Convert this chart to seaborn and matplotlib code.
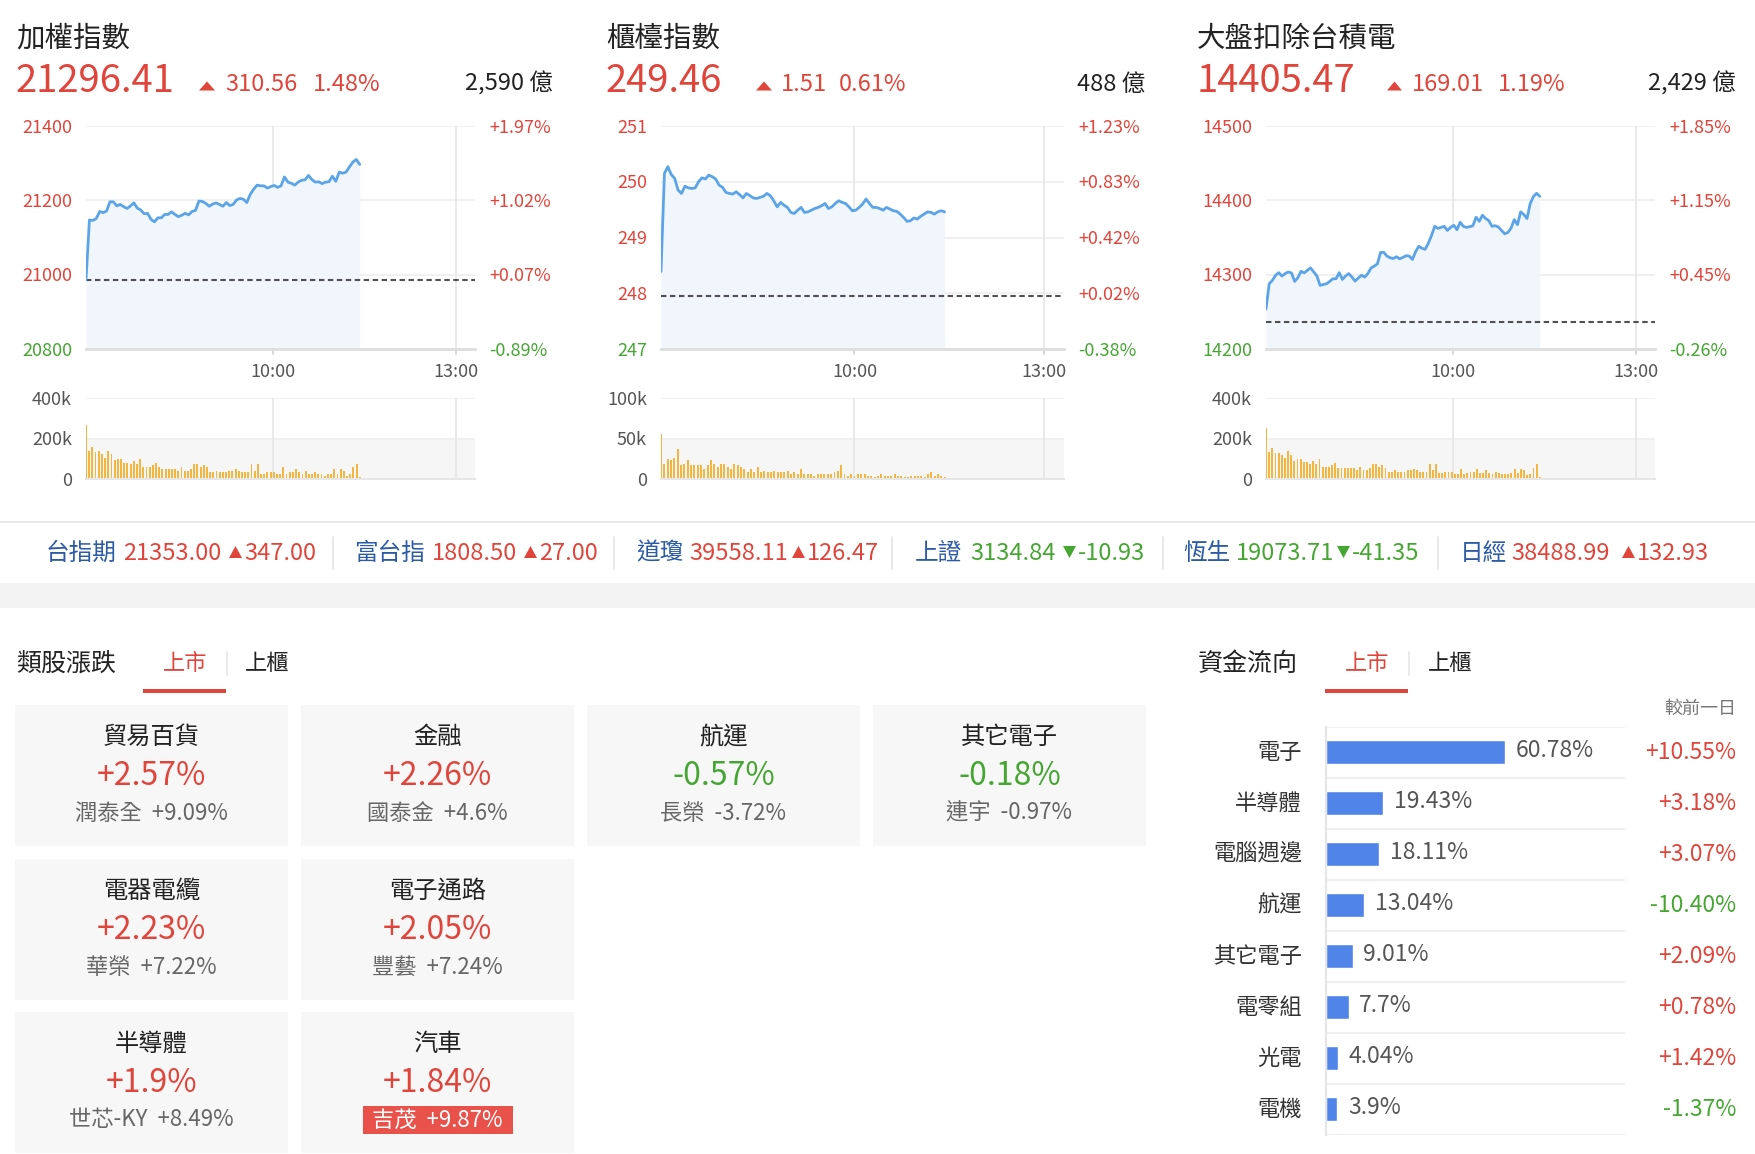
import numpy as np
import pandas as pd
import matplotlib
matplotlib.use("Agg")
import matplotlib.pyplot as plt
import matplotlib.transforms as mtransforms
from matplotlib.patches import Rectangle, Polygon
import seaborn as sns

# ---------------- data ----------------
index_names = ["加權指數", "櫃檯指數", "大盤扣除台積電"]
index_last = [21296.41, 249.46, 14405.47]
index_change = [310.56, 1.51, 169.01]
index_pct = [1.48, 0.61, 1.19]
index_turnover = ["2,590", "488", "2,429"]

taiex_yticks = [20800, 21000, 21200, 21400]
otc_yticks = [247, 248, 249, 250, 251]
extsmc_yticks = [14200, 14300, 14400, 14500]
taiex_volticks = [0, 200000, 400000]
otc_volticks = [0, 50000, 100000]
extsmc_volticks = [0, 200000, 400000]
time_labels = ["10:00", "13:00"]

taiex_line = [20986, 21147, 21146, 21151, 21170, 21167, 21171, 21196, 21196, 21185,
              21189, 21183, 21178, 21185, 21193, 21179, 21174, 21164, 21165, 21149,
              21142, 21153, 21153, 21162, 21162, 21169, 21162, 21156, 21160, 21165,
              21161, 21170, 21173, 21198, 21197, 21192, 21184, 21190, 21193, 21189,
              21184, 21194, 21186, 21189, 21201, 21205, 21203, 21194, 21216, 21230,
              21241, 21239, 21239, 21233, 21237, 21240, 21235, 21239, 21263, 21249,
              21246, 21241, 21249, 21254, 21255, 21267, 21256, 21249, 21250, 21245,
              21249, 21250, 21265, 21251, 21276, 21273, 21276, 21290, 21303, 21310,
              21296.41]
otc_line = [248.39, 250.15, 250.27, 250.13, 250.06, 249.85, 249.79, 249.92, 249.89, 249.88,
            249.89, 250.00, 250.07, 250.05, 250.12, 250.09, 250.05, 249.94, 249.90, 249.81,
            249.79, 249.78, 249.82, 249.77, 249.71, 249.79, 249.75, 249.71, 249.70, 249.72,
            249.74, 249.79, 249.75, 249.66, 249.55, 249.63, 249.58, 249.54, 249.45, 249.43,
            249.49, 249.54, 249.45, 249.46, 249.49, 249.52, 249.54, 249.57, 249.61, 249.52,
            249.55, 249.61, 249.66, 249.63, 249.61, 249.55, 249.48, 249.49, 249.54, 249.60,
            249.69, 249.61, 249.54, 249.54, 249.52, 249.49, 249.54, 249.51, 249.48, 249.47,
            249.42, 249.36, 249.29, 249.30, 249.35, 249.33, 249.38, 249.42, 249.46, 249.45,
            249.42, 249.46, 249.48, 249.46]
extsmc_line = [14253.6, 14287.7, 14292.3, 14299.1, 14302.7, 14298.2, 14301.4, 14303.6, 14302.3, 14290.9,
               14295.9, 14304.5, 14302.3, 14305.9, 14309.1, 14303.6, 14298.2, 14285.5, 14286.8, 14287.7,
               14290.9, 14294.5, 14294.5, 14302.7, 14293.6, 14298.2, 14301.4, 14296.8, 14291.4, 14295.5,
               14299.1, 14296.8, 14301.4, 14309.1, 14311.4, 14314.5, 14330.0, 14330.0, 14325.0, 14322.7,
               14321.8, 14324.1, 14321.4, 14323.2, 14325.5, 14325.0, 14320.5, 14330.9, 14338.2, 14335.5,
               14334.1, 14342.3, 14352.7, 14365.0, 14362.3, 14363.6, 14365.0, 14359.5, 14363.6, 14366.4,
               14360.5, 14370.5, 14365.0, 14363.6, 14364.5, 14365.9, 14377.3, 14371.8, 14380.0, 14375.5,
               14372.7, 14365.0, 14365.9, 14364.1, 14359.5, 14355.0, 14356.8, 14362.7, 14374.1, 14367.3,
               14384.5, 14380.9, 14375.5, 14395.5, 14405.0, 14409.5, 14405.47]

taiex_vol = [265, 140, 157, 132, 140, 123, 106, 140, 123, 92, 97, 97, 80, 80, 75, 89, 75, 101,
             58, 58, 58, 67, 80, 58, 50, 50, 50, 50, 50, 41, 58, 41, 41, 50, 75, 75, 58, 67, 58,
             34, 34, 41, 34, 34, 34, 41, 41, 50, 41, 34, 34, 34, 75, 41, 75, 26, 26, 34, 34, 34,
             26, 26, 58, 26, 34, 34, 50, 34, 26, 41, 26, 26, 34, 26, 26, 17, 26, 26, 50, 26, 50,
             41, 17, 26, 58, 75, 9]
otc_vol = [55.6, 18.8, 24.4, 23.1, 26.5, 37.2, 16.7, 18.8, 23.1, 16.7, 16.7, 16.7, 16.7, 12.4,
           16.7, 23.1, 18.8, 14.5, 18.8, 18.8, 14.5, 12.4, 18.8, 16.7, 14.5, 12.4, 8.5, 12.4, 8.5,
           14.5, 8.5, 10.3, 8.5, 8.5, 10.3, 8.5, 8.5, 8.5, 10.3, 6.4, 8.5, 6.4, 12.4, 6.4, 6.4,
           6.4, 4.3, 6.4, 6.4, 6.4, 6.4, 6.4, 8.5, 10.3, 16.7, 6.4, 4.3, 6.4, 4.3, 6.4, 6.4, 6.4,
           4.3, 4.3, 2.1, 4.3, 6.4, 4.3, 4.3, 4.3, 6.4, 4.3, 4.3, 2.1, 2.1, 4.3, 4.3, 4.3, 4.3,
           2.1, 6.4, 8.5, 4.3, 6.4, 4.3, 2.1]
extsmc_vol = [250, 135, 155, 130, 130, 118, 105, 138, 118, 88, 97, 97, 83, 83, 75, 88, 75, 97,
              58, 58, 58, 67, 80, 55, 52, 52, 52, 52, 52, 42, 58, 42, 42, 52, 75, 75, 58, 67, 55,
              33, 33, 42, 33, 33, 33, 42, 42, 47, 42, 33, 33, 33, 75, 42, 75, 30, 30, 33, 33, 33,
              27, 27, 50, 27, 30, 33, 33, 50, 30, 30, 42, 30, 27, 33, 30, 27, 27, 27, 30, 50, 30,
              47, 42, 22, 27, 55, 75, 10]

ticker_names = ["台指期", "富台指", "道瓊", "上證", "恆生", "日經"]
ticker_values = ["21353.00", "1808.50", "39558.11", "3134.84", "19073.71", "38488.99"]
ticker_changes = [347.00, 27.00, 126.47, -10.93, -41.35, 132.93]

sector_names = ["貿易百貨", "金融", "航運", "其它電子", "電器電纜", "電子通路", "半導體", "汽車"]
sector_pct = [2.57, 2.26, -0.57, -0.18, 2.23, 2.05, 1.9, 1.84]
sector_leader = ["潤泰全", "國泰金", "長榮", "連宇", "華榮", "豐藝", "世芯-KY", "吉茂"]
sector_leader_pct = [9.09, 4.6, -3.72, -0.97, 7.22, 7.24, 8.49, 9.87]

flow_names = ["電子", "半導體", "電腦週邊", "航運", "其它電子", "電零組", "光電", "電機"]
flow_pct = [60.78, 19.43, 18.11, 13.04, 9.01, 7.7, 4.04, 3.9]
flow_change = [10.55, 3.18, 3.07, -10.40, 2.09, 0.78, 1.42, -1.37]

# ---------------- style ----------------
sns.set_theme(style="white")
plt.rcParams['font.family'] = ['Noto Sans CJK TC', 'DejaVu Sans']
plt.rcParams['axes.unicode_minus'] = False

RED = "#e0453b"
GREEN = "#45a632"
LINE = "#5ba4e8"
FILL = "#f1f6fc"
VOLC = "#f3b642"
TBLUE = "#2b5ba6"
BARC = "#5184e8"
CARD = "#f7f7f7"
GRID = "#eeeeee"
DARK = "#222222"
GREYT = "#555555"

W, H = 1756, 1154
fig = plt.figure(figsize=(W / 100, H / 100), dpi=100)
fig.patch.set_facecolor("white")


def T(x, y, s, **kw):
    return fig.text(x / W, 1 - y / H, s, **kw)


def add_ax(x0, y0, x1, y1):
    return fig.add_axes([x0 / W, 1 - y1 / H, (x1 - x0) / W, (y1 - y0) / H])


def tri(x0, x1, ybase, h, up, color):
    if up:
        pts = [(x0, ybase), (x1, ybase), ((x0 + x1) / 2, ybase - h)]
    else:
        pts = [(x0, ybase - h), (x1, ybase - h), ((x0 + x1) / 2, ybase)]
    pts = [(px / W, 1 - py / H) for px, py in pts]
    fig.add_artist(Polygon(pts, closed=True, facecolor=color, edgecolor="none",
                           transform=fig.transFigure))


def rect(x0, y0, x1, y1, color, z=0):
    fig.add_artist(Rectangle((x0 / W, 1 - y1 / H), (x1 - x0) / W, (y1 - y0) / H,
                             facecolor=color, edgecolor="none", transform=fig.transFigure, zorder=z))


def hline(x0, x1, y, color, lw):
    fig.add_artist(plt.Line2D([x0 / W, x1 / W], [1 - y / H, 1 - y / H], color=color, lw=lw,
                              transform=fig.transFigure))


def vline(x, y0, y1, color, lw):
    fig.add_artist(plt.Line2D([x / W, x / W], [1 - y0 / H, 1 - y1 / H], color=color, lw=lw,
                              transform=fig.transFigure))


# ---------------- index panels ----------------
XMAX = 270.0
XEND = 190.0
TICKX = [129.6, 256.8]

panels = [
    dict(line=taiex_line, vol=taiex_vol, volscale=1000, yt=taiex_yticks, vt=taiex_volticks,
         x0=86, x1=475, tx=16, tri=(199, 215), chx=225, pcx=313, turn_r=553),
    dict(line=otc_line, vol=otc_vol, volscale=1000, yt=otc_yticks, vt=otc_volticks,
         x0=661, x1=1064, tx=606, tri=(756, 772), chx=781, pcx=839, turn_r=1145),
    dict(line=extsmc_line, vol=extsmc_vol, volscale=1000, yt=extsmc_yticks, vt=extsmc_volticks,
         x0=1266, x1=1655, tx=1197, tri=(1387, 1402), chx=1412, pcx=1498, turn_r=1736),
]

for i, p in enumerate(panels):
    last = index_last[i]
    prev = last - index_change[i]
    # header
    T(p["tx"], 38.5, index_names[i], fontsize=20.5, color=DARK, va="center", ha="left")
    T(p["tx"], 91.5, f"{last:.2f}", fontsize=27.5, color=RED, va="baseline", ha="left")
    tri(p["tri"][0], p["tri"][1], 90.5, 9, True, RED)
    T(p["chx"], 91, f"{index_change[i]:.2f}", fontsize=17, color=RED, va="baseline", ha="left")
    T(p["pcx"], 91, f"{index_pct[i]:.2f}%", fontsize=17, color=RED, va="baseline", ha="left")
    T(p["turn_r"], 91, f"{index_turnover[i]} 億", fontsize=17, color=DARK, va="baseline", ha="right")

    # main line chart
    ax = add_ax(p["x0"], 126, p["x1"], 349)
    yt = p["yt"]
    xs = np.linspace(0, XEND, len(p["line"]))
    df = pd.DataFrame({"t": xs, "v": p["line"]})
    ax.fill_between(xs, p["line"], yt[0], color=FILL, lw=0, zorder=1)
    for t in yt[1:]:
        ax.axhline(t, color=GRID, lw=1.2, zorder=0)
    for tx in TICKX:
        ax.axvline(tx, color="#e6e6e6", lw=1.2, zorder=0)
    ax.axhline(prev, color="#505050", lw=1.5, ls=(0, (2.6, 1.7)), zorder=2)
    sns.lineplot(data=df, x="t", y="v", ax=ax, color=LINE, lw=2.0, zorder=3, sort=False)
    ax.set_xlim(0, XMAX)
    ax.set_ylim(yt[0], yt[-1])
    ax.set_xticks([]); ax.set_yticks([])
    ax.set_xlabel(""); ax.set_ylabel("")
    for s in ["top", "left", "right"]:
        ax.spines[s].set_visible(False)
    ax.spines["bottom"].set_color("#dddddd")
    ax.spines["bottom"].set_linewidth(2)
    ax.set_facecolor("none")
    wpx = p["x1"] - p["x0"]
    tr = mtransforms.offset_copy(mtransforms.blended_transform_factory(ax.transAxes, ax.transData),
                                 fig=fig, x=0, y=-1.2, units="points")
    for t in yt:
        col = RED if t > prev else GREEN
        lab = f"{t:g}"
        ax.text(-14 / wpx, t, lab, transform=tr, ha="right", va="center", fontsize=13, color=col)
        pc = (t / prev - 1) * 100
        ax.text(1 + 14 / wpx, t, f"{pc:+.2f}%", transform=tr, ha="left", va="center",
                fontsize=13, color=(RED if pc >= 0 else GREEN))
    trx = mtransforms.blended_transform_factory(ax.transData, ax.transAxes)
    for tx, lab in zip(TICKX, time_labels):
        ax.text(tx, -(372 - 349) / 223, lab, transform=trx, ha="center", va="center",
                fontsize=13, color=GREYT)
        ax.plot([tx, tx], [0, -5 / 223], transform=trx, color="#d0d0d0", lw=1.2, clip_on=False)

    # volume chart
    vax = add_ax(p["x0"], 398, p["x1"], 479)
    vt = p["vt"]
    vol = np.array(p["vol"]) * p["volscale"]
    vx = np.linspace(0, XEND, len(vol))
    vax.axhspan(0, vt[1], color="#f6f6f6", lw=0, zorder=0)
    for t in vt[1:]:
        vax.axhline(t, color=GRID, lw=1.2, zorder=0)
    for tx in TICKX:
        vax.axvline(tx, color="#e6e6e6", lw=1.2, zorder=0)
    vax.bar(vx, vol, width=XEND / len(vol) * 0.6, color=VOLC, lw=0, zorder=2)
    vax.set_xlim(0, XMAX)
    vax.set_ylim(0, vt[-1])
    vax.set_xticks([]); vax.set_yticks([])
    for s in ["top", "left", "right"]:
        vax.spines[s].set_visible(False)
    vax.spines["bottom"].set_color("#e6e6e6")
    vax.spines["bottom"].set_linewidth(1.5)
    vax.set_facecolor("none")
    trv = mtransforms.offset_copy(mtransforms.blended_transform_factory(vax.transAxes, vax.transData),
                                  fig=fig, x=0, y=-1.2, units="points")
    for t in vt:
        lab = "0" if t == 0 else f"{int(t / 1000)}k"
        vax.text(-14 / wpx, t, lab, transform=trv, ha="right", va="center", fontsize=13, color=GREYT)

# ---------------- ticker strip ----------------
hline(0, W, 522, "#e4e4e4", 1.2)
rect(0, 583, W, 608, "#f3f3f3")
ticker_layout = [(46, 123, 229), (354, 432, 524), (636, 689, 792),
                 (915, 970, 1063), (1183, 1236, 1337), (1460, 1511, 1622)]
ticker_seps = [333, 614, 892, 1163, 1438]
for name, val, ch, (nx, vx_, tx_) in zip(ticker_names, ticker_values, ticker_changes, ticker_layout):
    col = RED if ch > 0 else GREEN
    T(nx, 560, name, fontsize=17, color=TBLUE, va="baseline", ha="left")
    T(vx_, 560, val, fontsize=17, color=col, va="baseline", ha="left")
    tri(tx_, tx_ + 13, 558, 12, ch > 0, col)
    T(tx_ + 15, 560, f"{ch:.2f}", fontsize=17, color=col, va="baseline", ha="left")
for sx in ticker_seps:
    vline(sx, 537, 569, "#e4e4e4", 1.2)

# ---------------- sector cards ----------------
T(16, 664, "類股漲跌", fontsize=18, color=DARK, va="center", ha="left")
T(185, 664, "上市", fontsize=16, color=RED, va="center", ha="center")
T(267, 664, "上櫃", fontsize=16, color=DARK, va="center", ha="center")
vline(227, 652, 675, "#e6e6e6", 1.2)
rect(143, 689, 226, 693, RED)

card_cols = [15, 301, 587, 873]
card_rows = [705, 859, 1012]
card_slots = [(0, 0), (0, 1), (0, 2), (0, 3), (1, 0), (1, 1), (2, 0), (2, 1)]
CW, CH = 273, 141
for k, (r, c) in enumerate(card_slots):
    x0, y0 = card_cols[c], card_rows[r]
    rect(x0, y0, x0 + CW, y0 + CH, CARD)
    cx = x0 + CW / 2
    T(cx, y0 + 32, sector_names[k], fontsize=17.5, color=DARK, va="center", ha="center")
    pv = sector_pct[k]
    T(cx, y0 + 71, f"{pv:+g}%", fontsize=23, color=(RED if pv > 0 else GREEN),
      va="center", ha="center")
    lp = sector_leader_pct[k]
    lab = f"{sector_leader[k]}  {lp:+g}%"
    if lp >= 9.5:
        rect(cx - 74, y0 + 94, cx + 75, y0 + 122, "#e9524b")
        T(cx, y0 + 108, lab, fontsize=16, color="white", va="center", ha="center")
    else:
        T(cx, y0 + 108, lab, fontsize=16, color="#666666", va="center", ha="center")

# ---------------- fund flow ----------------
T(1198, 664, "資金流向", fontsize=18, color=DARK, va="center", ha="left")
T(1367, 664, "上市", fontsize=16, color=RED, va="center", ha="center")
T(1450, 664, "上櫃", fontsize=16, color=DARK, va="center", ha="center")
vline(1409, 652, 675, "#e6e6e6", 1.2)
rect(1325, 689, 1408, 693, RED)
T(1736, 709, "較前一日", fontsize=13, color="#777777", va="center", ha="right")

bax = add_ax(1326, 726.6, 1625, 1135)
fdf = pd.DataFrame({"sector": flow_names, "pct": flow_pct})
sns.barplot(data=fdf, x="pct", y="sector", orient="h", color=BARC, saturation=1,
            width=0.47, ax=bax, errorbar=None)
bax.set_xlim(0, 101.5)
bax.set_ylim(len(flow_names) - 0.5, -0.5)
bax.set_xticks([]); bax.set_yticks([])
bax.set_xlabel(""); bax.set_ylabel("")
for s in ["top", "right", "bottom"]:
    bax.spines[s].set_visible(False)
bax.spines["left"].set_color("#e6e6e6")
bax.spines["left"].set_linewidth(1.5)
bax.set_facecolor("none")
for j in range(len(flow_names) + 1):
    bax.axhline(j - 0.5, color="#efefef", lw=1.5, zorder=0)
bw = 1625 - 1326
trb = mtransforms.blended_transform_factory(bax.transAxes, bax.transData)
trd = mtransforms.offset_copy(bax.transData, fig=fig, x=7.5, y=0, units="points")
for j, (nm, v, ch) in enumerate(zip(flow_names, flow_pct, flow_change)):
    bax.text(-24 / bw, j, nm, transform=trb, ha="right", va="center", fontsize=16, color="#333333")
    bax.text(v, j - 0.03, f"{v:g}%", transform=trd, ha="left", va="center", fontsize=16.5, color=GREYT)
    bax.text((1736 - 1326) / bw, j, f"{ch:+.2f}%", transform=trb, ha="right", va="center",
             fontsize=16.5, color=(RED if ch > 0 else GREEN), clip_on=False)

fig.savefig("out.png", dpi=100, facecolor="white")
